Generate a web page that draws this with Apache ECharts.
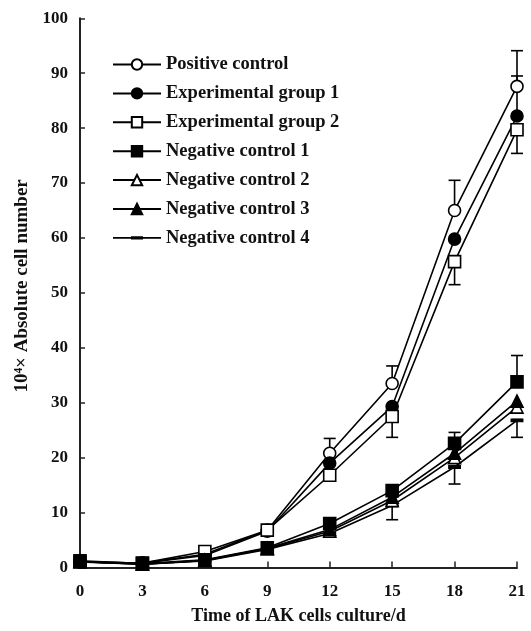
<!DOCTYPE html>
<html><head><meta charset="utf-8">
<script src="https://cdn.jsdelivr.net/npm/echarts@6/dist/echarts.min.js"></script>
<style>html,body{margin:0;padding:0;background:#fff}#c{width:531px;height:631px}</style>
</head><body><div id="c"></div>
<script>
const days = [0, 3, 6, 9, 12, 15, 18, 21];
const xTicks = ['0', '3', '6', '9', '12', '15', '18', '21'];
const names = ['Positive control', 'Experimental group 1', 'Experimental group 2',
  'Negative control 1', 'Negative control 2', 'Negative control 3', 'Negative control 4'];
const positiveControl = [1.0, 0.8, 2.4, 6.8, 20.8, 33.5, 65.0, 87.6];
const experimental1  = [1.0, 0.8, 2.2, 6.6, 19.0, 29.3, 59.8, 82.2];
const experimental2  = [1.0, 0.8, 2.9, 6.8, 16.8, 27.5, 55.7, 79.7];
const negative1 = [1.2, 0.7, 1.4, 3.6, 8.0, 14.0, 22.6, 33.8];
const negative2 = [1.1, 0.6, 1.3, 3.4, 6.6, 12.2, 20.0, 29.2];
const negative3 = [1.1, 0.6, 1.3, 3.5, 6.9, 12.8, 20.8, 30.3];
const negative4 = [1.0, 0.6, 1.2, 3.3, 6.2, 11.3, 18.3, 26.8];
// one-sided error bars (SD) as visible in the figure
const pcErrUp    = [0, 0, 0, 0, 2.7, 3.2, 5.5, 6.5];
const eg1ErrUp   = [0, 0, 0, 0, 0, 0, 0, 7.3];
const eg2ErrDown = [0, 0, 0, 0, 0, 3.8, 4.2, 4.3];
const nc1ErrUp   = [0, 0, 0, 0, 0, 0, 2.0, 4.8];
const nc4ErrDown = [0, 0, 0, 0, 0, 2.6, 3.1, 3.1];

const FONT = 'Liberation Serif';
const DASH = 'path://M0,0 H12 V3 H0 Z';
const LEGEND_DASH = 'path://M0,0 L0,0 M0,13 L0,13 M0,5.6 H48 V7.4 H0 Z M18,4.8 H30 V8.2 H18 Z';
const toPairs = arr => days.map((d, i) => [d, arr[i]]);

function lineSeries(name, values, symbol, filled) {
  return {
    name, type: 'line', data: toPairs(values), z: 3,
    symbol: symbol, symbolSize: symbol === DASH ? [10, 3] : 12,
    showAllSymbol: true,
    lineStyle: { color: '#000', width: 1.6 },
    itemStyle: { color: filled ? '#000' : '#fff', borderColor: '#000', borderWidth: 1.6 },
    emphasis: { disabled: true }, animation: false
  };
}
function errSeries(base, err, dir) {
  const data = [];
  days.forEach((d, i) => { if (err[i] > 0) data.push([d, base[i], base[i] + dir * err[i]]); });
  return {
    type: 'custom', silent: true, z: 2, animation: false, data,
    encode: { x: 0, y: [1, 2] },
    renderItem(params, api) {
      const x = api.value(0);
      const p0 = api.coord([x, api.value(1)]);
      const p1 = api.coord([x, api.value(2)]);
      const w = 6;
      return { type: 'group', children: [
        { type: 'line', shape: { x1: p0[0], y1: p0[1], x2: p1[0], y2: p1[1] }, style: { stroke: '#000', lineWidth: 1.6 } },
        { type: 'line', shape: { x1: p1[0] - w, y1: p1[1], x2: p1[0] + w, y2: p1[1] }, style: { stroke: '#000', lineWidth: 1.6 } }
      ]};
    }
  };
}

const chart = echarts.init(document.getElementById('c'), null, { renderer: 'canvas' });
chart.setOption({
  backgroundColor: '#fff',
  animation: false,
  textStyle: { fontFamily: FONT },
  grid: { left: 80, right: 14, top: 18.3, bottom: 63.5, outerBoundsMode: 'none' },
  legend: {
    data: names.map((n, i) => i === 6 ? { name: n, icon: LEGEND_DASH, itemStyle: { borderWidth: 0 } } : n),
    orient: 'vertical', left: 107, top: 50,
    itemWidth: 48, itemHeight: 13, itemGap: 9.9,
    textStyle: { fontFamily: FONT, fontWeight: 'bold', fontSize: 18.5, color: '#111', lineHeight: 18 },
    selectedMode: false
  },
  xAxis: {
    type: 'value', min: 0, max: 21, interval: 3,
    name: 'Time of LAK cells culture/d', nameLocation: 'middle', nameGap: 40,
    nameTextStyle: { fontFamily: FONT, fontWeight: 'bold', fontSize: 18, color: '#111' },
    axisLine: { lineStyle: { color: '#222', width: 2 } },
    axisTick: { inside: true, length: 6, lineStyle: { color: '#222', width: 1.5 } },
    axisLabel: { fontFamily: FONT, fontWeight: 'bold', fontSize: 17, color: '#111', margin: 16,
      formatter: v => xTicks[days.indexOf(v)] },
    splitLine: { show: false }
  },
  yAxis: {
    type: 'value', min: 0, max: 100, interval: 10,
    name: '10⁴× Absolute cell number', nameLocation: 'middle', nameGap: 44,
    nameTextStyle: { fontFamily: FONT, fontWeight: 'bold', fontSize: 19, color: '#111', padding: [0, 0, 0, 14] },
    axisLine: { show: true, lineStyle: { color: '#222', width: 2 } },
    axisTick: { show: true, inside: true, length: 5, lineStyle: { color: '#222', width: 1.5 } },
    axisLabel: { fontFamily: FONT, fontWeight: 'bold', fontSize: 17, color: '#111', margin: 12 },
    splitLine: { show: false }
  },
  series: [
    errSeries(positiveControl, pcErrUp, 1),
    errSeries(experimental1, eg1ErrUp, 1),
    errSeries(experimental2, eg2ErrDown, -1),
    errSeries(negative1, nc1ErrUp, 1),
    errSeries(negative4, nc4ErrDown, -1),
    lineSeries(names[0], positiveControl, 'circle', false),
    lineSeries(names[1], experimental1, 'circle', true),
    lineSeries(names[2], experimental2, 'rect', false),
    lineSeries(names[6], negative4, DASH, true),
    lineSeries(names[4], negative2, 'triangle', false),
    lineSeries(names[5], negative3, 'triangle', true),
    lineSeries(names[3], negative1, 'rect', true)
  ]
});
</script></body></html>
